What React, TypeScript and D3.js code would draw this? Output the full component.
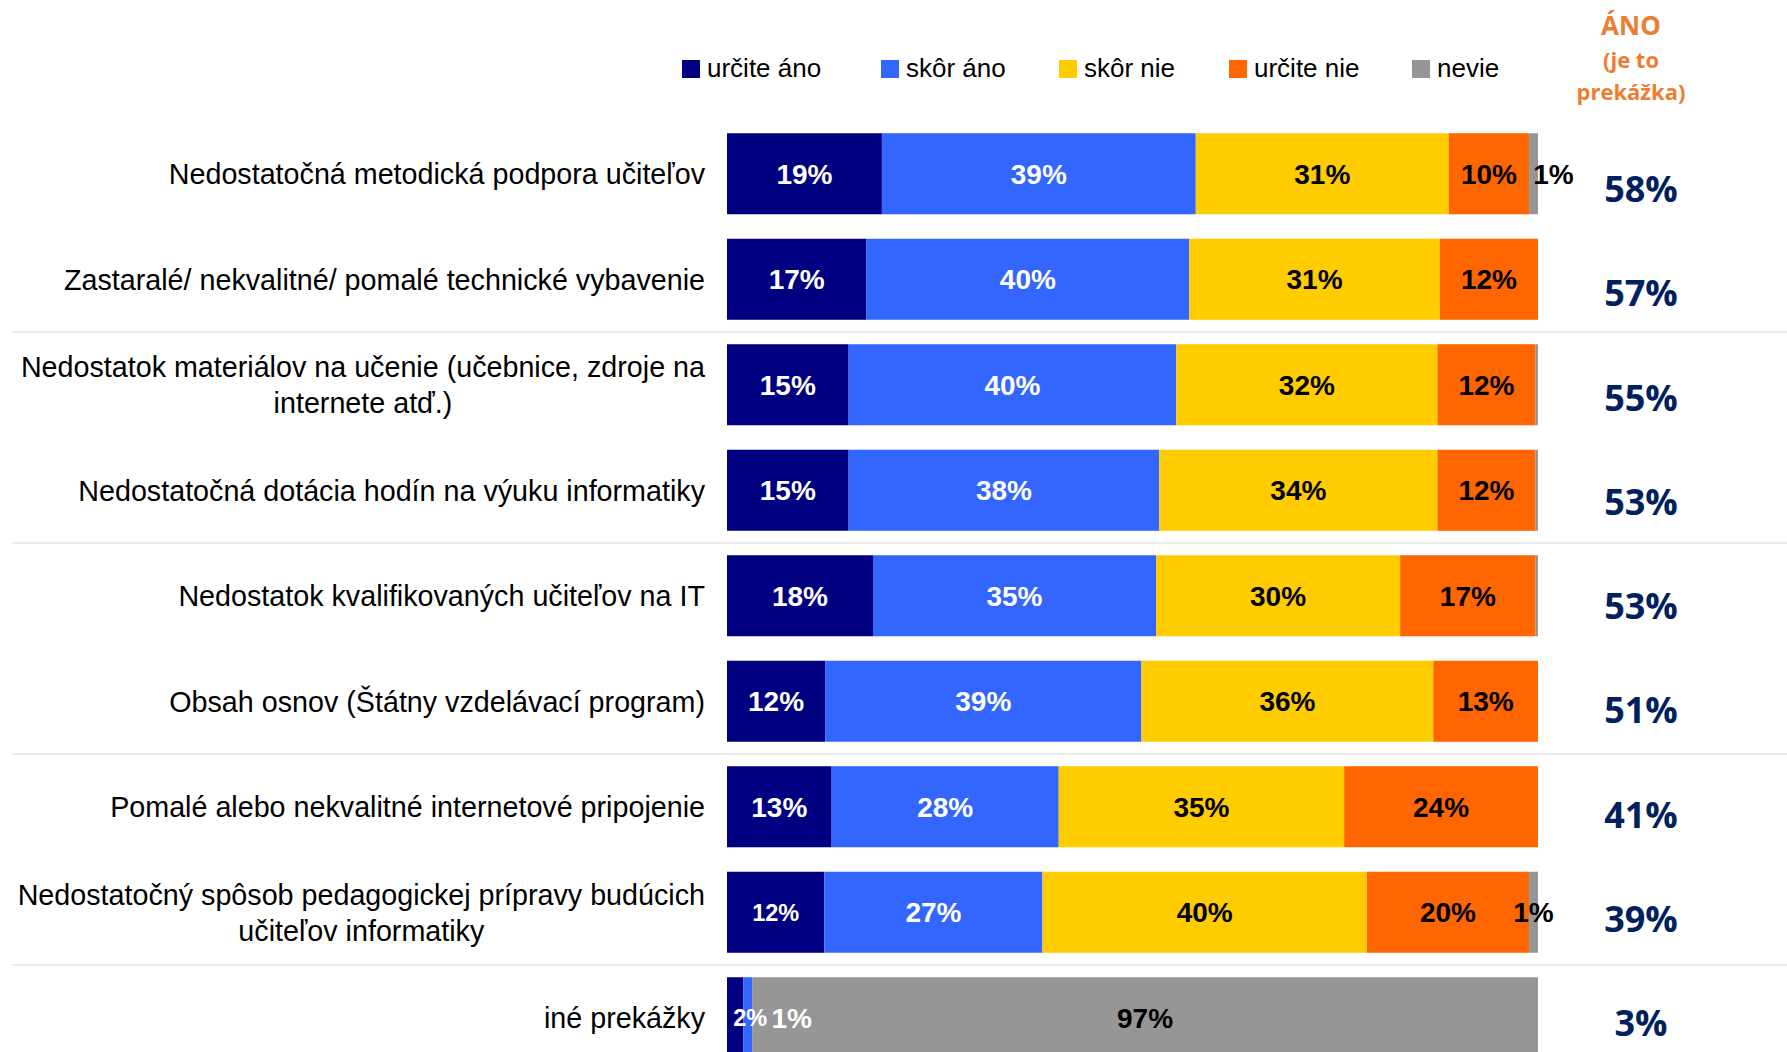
import { useEffect, useRef } from "react";
import * as d3 from "d3";

// category labels (multi-line ones split into lines)
const categories = [
  ["Nedostatočná metodická podpora učiteľov"],
  ["Zastaralé/ nekvalitné/ pomalé technické vybavenie"],
  ["Nedostatok materiálov na učenie (učebnice, zdroje na", "internete atď.)"],
  ["Nedostatočná dotácia hodín na výuku informatiky"],
  ["Nedostatok kvalifikovaných učiteľov na IT"],
  ["Obsah osnov (Štátny vzdelávací program)"],
  ["Pomalé alebo nekvalitné internetové pripojenie"],
  ["Nedostatočný spôsob pedagogickej prípravy budúcich", "učiteľov informatiky"],
  ["iné prekážky"],
];
const seriesNames = ["určite áno", "skôr áno", "skôr nie", "určite nie", "nevie"];
const urciteAno = [19.1, 17.2, 15.0, 15.0, 18.0, 12.1, 12.9, 12.0, 2.0];
const skorAno = [38.7, 39.8, 40.4, 38.3, 34.9, 39.0, 28.0, 26.9, 1.1];
const skorNie = [31.2, 30.9, 32.2, 34.3, 30.1, 36.0, 35.2, 40.0, 0];
const urciteNie = [9.9, 12.1, 12.1, 12.1, 16.7, 12.9, 23.9, 20.0, 0];
const nevie = [1.1, 0, 0.3, 0.3, 0.3, 0, 0, 1.1, 96.9];
const anoTotal = [58, 57, 55, 53, 53, 51, 41, 39, 3];
const headerLines = ["ÁNO", "(je to", "prekážka)"];

const colors = ["#000080", "#3366ff", "#ffcc00", "#ff6600", "#969696"];
const labelColors = ["#fff", "#fff", "#000", "#000", "#000"];
// small labels that excel pushed aside
const nudges = [
  { row: 0, s: 4, dx: 20 },
  { row: 7, s: 0, dx: 0, size: 23.5 },
  { row: 8, s: 0, dx: 15, size: 23.5 },
  { row: 8, s: 1, dx: 44 },
];
const legendX = [682, 881, 1059, 1229, 1412];

const W = 1787;
const H = 1052;
const sans = "'Liberation Sans', Arial, sans-serif";

export default function App() {
  const svgRef = useRef<SVGSVGElement>(null);

  useEffect(() => {
    document.body.style.margin = "0";
    document.body.style.overflow = "hidden";
    if (!svgRef.current) return;
    const svg = d3.select(svgRef.current);
    svg.selectAll("*").remove();

    const keys = seriesNames.map((_, i) => String(i));
    const series = [urciteAno, skorAno, skorNie, urciteNie, nevie];
    const table = categories.map((_, r) => {
      const o: any = { row: r };
      series.forEach((s, i) => (o[String(i)] = s[r]));
      return o;
    });
    const stacked = d3.stack<any>().keys(keys)(table);

    const x = d3.scaleLinear().domain([0, 100]).range([727, 1538]);
    const y = d3
      .scaleBand<number>()
      .domain(categories.map((_, i) => i))
      .range([121, 1070.5])
      .paddingInner(0.232)
      .paddingOuter(0.116);
    const bw = y.bandwidth();
    // the totals column sits on a slightly tighter grid than the bars
    const yTot = d3.scalePoint<number>().domain(anoTotal.map((_, i) => i)).range([202, 1036]);

    // separators between pairs of rows
    const sepRows = [2, 4, 6, 8];
    svg
      .append("g")
      .selectAll("line")
      .data(sepRows)
      .join("line")
      .attr("x1", 12)
      .attr("x2", W)
      .attr("y1", (r) => y(r)! - (y.step() * y.paddingInner()) / 2)
      .attr("y2", (r) => y(r)! - (y.step() * y.paddingInner()) / 2)
      .attr("stroke", "#e4e4e4")
      .attr("stroke-width", 1.5);

    // bars
    const gBars = svg.append("g");
    stacked.forEach((layer, si) => {
      gBars
        .append("g")
        .attr("fill", colors[si])
        .selectAll("rect")
        .data(layer.filter((d) => d[1] - d[0] > 0))
        .join("rect")
        .attr("x", (d) => x(d[0]))
        .attr("y", (d) => y(d.data.row)!)
        .attr("width", (d) => x(d[1]) - x(d[0]))
        .attr("height", bw);
    });

    // value labels
    const gLab = svg.append("g").attr("font-family", sans).attr("font-weight", "bold").attr("text-anchor", "middle");
    stacked.forEach((layer, si) => {
      layer.forEach((d) => {
        const v = d[1] - d[0];
        if (Math.round(v) < 1) return;
        const r = d.data.row;
        const n = nudges.find((k) => k.row === r && k.s === si);
        gLab
          .append("text")
          .attr("x", (x(d[0]) + x(d[1])) / 2 + (n ? n.dx : 0))
          .attr("y", y(r)! + bw / 2)
          .attr("dy", "0.36em")
          .attr("font-size", n && n.size ? n.size : 28)
          .attr("fill", labelColors[si])
          .text(Math.round(v) + "%");
      });
    });

    // category labels, lines centred within the block, block right aligned
    const gCat = svg.append("g").attr("font-family", sans).attr("font-size", 28.7).attr("fill", "#000");
    categories.forEach((lines, r) => {
      const cy = y(r)! + bw / 2;
      const t = gCat.append("text").attr("text-anchor", "middle");
      const spans = lines.map((ln, i) =>
        t
          .append("tspan")
          .attr("y", cy + (i - (lines.length - 1) / 2) * 36)
          .attr("dy", "0.36em")
          .text(ln)
      );
      const maxW = d3.max(spans, (s) => (s.node() as SVGTSpanElement).getComputedTextLength()) || 0;
      spans.forEach((s) => s.attr("x", 705 - maxW / 2));
    });

    // legend
    const gLeg = svg.append("g").attr("font-family", sans).attr("font-size", 26);
    seriesNames.forEach((name, i) => {
      const lx = legendX[i];
      gLeg.append("rect").attr("x", lx).attr("y", 60).attr("width", 18).attr("height", 18).attr("fill", colors[i]);
      gLeg.append("text").attr("x", lx + 25).attr("y", 77).text(name);
    });

    // right column header + totals
    const gRight = svg.append("g").attr("font-family", "'Open Sans', sans-serif").attr("font-weight", "bold").attr("text-anchor", "middle");
    const headY = [35, 68, 100];
    headerLines.forEach((h, i) => {
      gRight
        .append("text")
        .attr("x", 1631)
        .attr("y", headY[i])
        .attr("font-size", i === 0 ? 26 : 22)
        .attr("fill", "#ed7d31")
        .text(h);
    });
    gRight
      .selectAll("text.tot")
      .data(anoTotal)
      .join("text")
      .attr("class", "tot")
      .attr("x", 1641)
      .attr("y", (_, i) => yTot(i)!)
      .attr("font-size", 36)
      .attr("fill", "#002060")
      .text((d) => d + "%");
  }, []);

  return <svg ref={svgRef} width={W} height={H} style={{ display: "block", background: "#fff" }} />;
}
